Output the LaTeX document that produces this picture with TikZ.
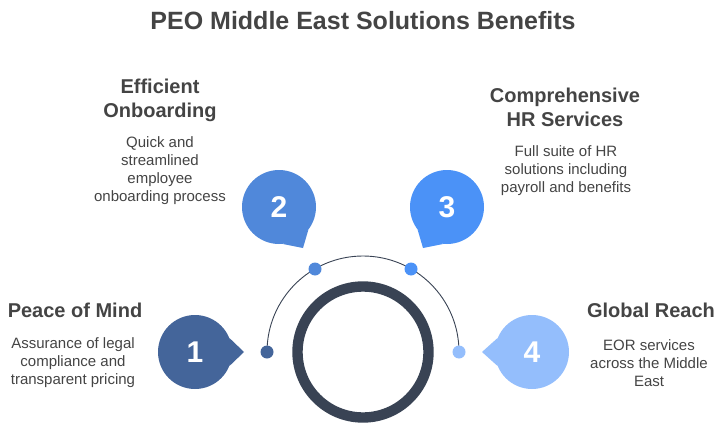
\documentclass[tikz,border=0pt]{standalone}
\usepackage{fontspec}
\setmainfont{Liberation Sans}
\usepackage{xcolor}
\usetikzlibrary{positioning}

\definecolor{inkgray}{HTML}{444444}
\definecolor{ringgray}{HTML}{394354}
\definecolor{stepone}{HTML}{44659A}
\definecolor{steptwo}{HTML}{5088DA}
\definecolor{stepthree}{HTML}{4B92F7}
\definecolor{stepfour}{HTML}{94BEFC}

\begin{document}
\begin{tikzpicture}[x=1pt, y=-1pt,
  bubble/.style={circle, minimum size=74pt, inner sep=0pt, text=white,
    font=\fontsize{30}{30}\selectfont\bfseries},
  dot/.style={circle, minimum size=13pt, inner sep=0pt},
  heading/.style={align=center, inner sep=0pt, text=inkgray,
    font=\fontsize{20}{24}\selectfont\bfseries},
  desc/.style={align=center, inner sep=0pt, text=inkgray,
    font=\fontsize{15}{18}\selectfont}]
\useasboundingbox (0,0) rectangle (725,433);
\node (title) [text=inkgray, font=\fontsize{25}{30}\selectfont\bfseries] at (363,21) {PEO Middle East Solutions Benefits};

% centre ring and arc
\node (ring) [circle, draw=ringgray, line width=10.4pt, minimum size=131pt] at (363,352) {};
\node (d1) [dot] at (267,352) {};
\node (d2) [dot] at (315,269) {};
\node (d3) [dot] at (411,269) {};
\node (d4) [dot] at (459,352) {};
\draw [ringgray, line width=0.9pt] (d1.center) arc[start angle=180, end angle=360, radius=96];
\foreach \d/\c in {d1/stepone, d2/steptwo, d3/stepthree, d4/stepfour}
  \fill [\c] (\d) circle (6.5pt);

% bubbles
\node (b1) [bubble, fill=stepone] at (195,352) {1};
\node (b2) [bubble, fill=steptwo] at (279,207) {2};
\node (b3) [bubble, fill=stepthree] at (447,207) {3};
\node (b4) [bubble, fill=stepfour] at (532,352) {4};
\coordinate (t1) at (244,352);
\coordinate (t2) at (303,248);
\coordinate (t3) at (423,248);
\coordinate (t4) at (482,352);
\fill [stepone] (b1.22) -- (t1) -- (b1.-22) -- cycle;
\fill [steptwo] (b2.-38) -- (t2) -- (b2.-84) -- cycle;
\fill [stepthree] (b3.-96) -- (t3) -- (b3.-142) -- cycle;
\fill [stepfour] (b4.158) -- (t4) -- (b4.202) -- cycle;

% texts
\node (h1) [heading] at (75,310) {Peace of Mind};
\node (p1) [desc] at (73,363) {Assurance of legal\\compliance and\\transparent pricing};
\node (h2) [heading] at (160,100) {Efficient\\Onboarding};
\node (p2) [desc] at (160,171) {Quick and\\streamlined\\employee\\onboarding process};
\node (h3) [heading] at (565,107) {Comprehensive\\HR Services};
\node (p3) [desc] at (566,171) {Full suite of HR\\solutions including\\payroll and benefits};
\node (h4) [heading] at (651,310) {Global Reach};
\node (p4) [desc] at (649,363) {EOR services\\across the Middle\\East};
\end{tikzpicture}
\end{document}
